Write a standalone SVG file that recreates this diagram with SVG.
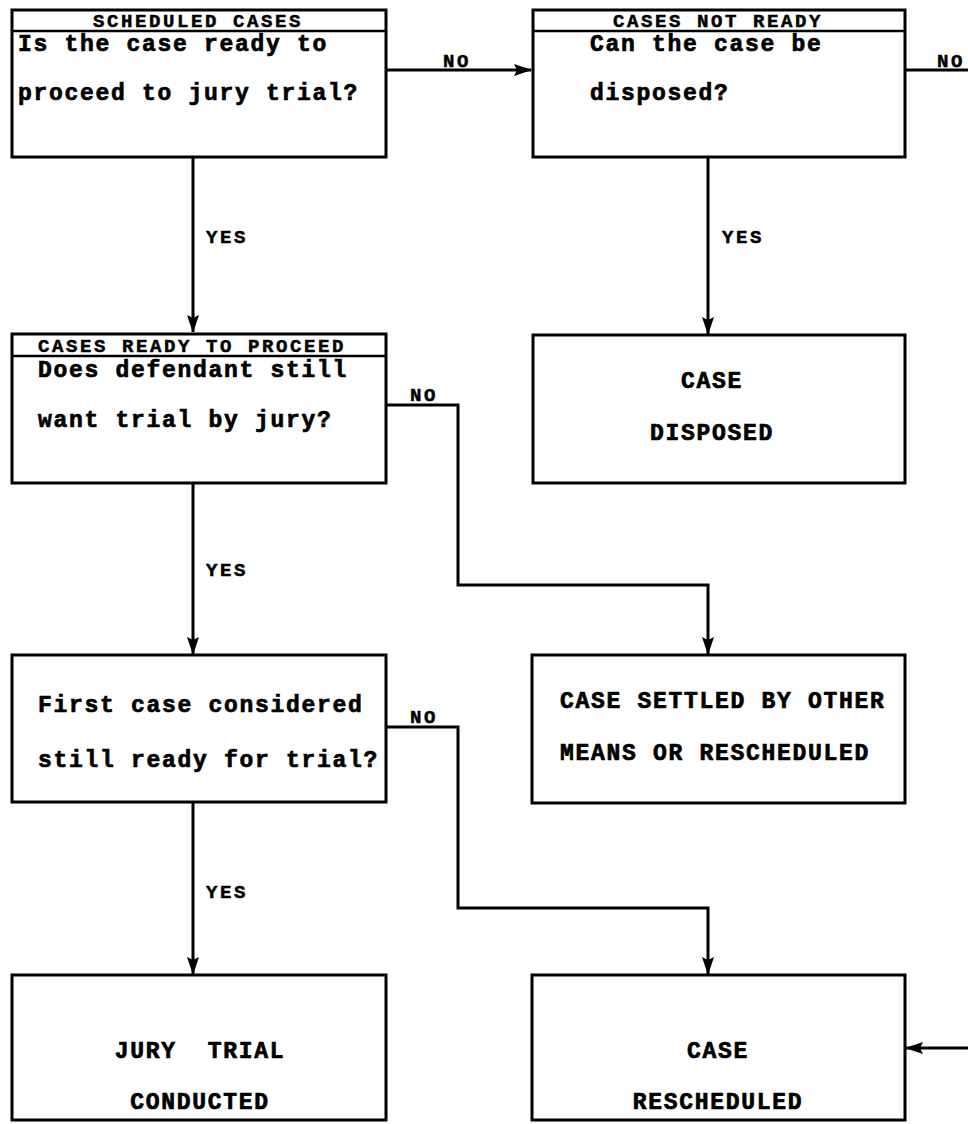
<svg xmlns="http://www.w3.org/2000/svg" width="968" height="1124" viewBox="0 0 968 1124">
<style>
.box{fill:#fff;stroke:#000;stroke-width:3}
.hl{stroke:#000;stroke-width:2.5}
.t{font-family:"Liberation Mono","DejaVu Sans Mono",monospace;font-weight:bold;font-size:23px;letter-spacing:1.7px;fill:#000;stroke:#000;stroke-width:0.7}
.h{font-family:"Liberation Mono","DejaVu Sans Mono",monospace;font-weight:bold;font-size:19px;letter-spacing:2.6px;fill:#000;stroke:#000;stroke-width:0.5}
.m{text-anchor:middle}
.c{fill:none;stroke:#000;stroke-width:3}
.a{marker-end:url(#ah)}
</style>
<defs>
<marker id="ah" viewBox="0 0 18 14" refX="17" refY="7" markerWidth="18" markerHeight="14" orient="auto" markerUnits="userSpaceOnUse">
<path d="M0,1 L18,7 L0,13 L3,7 Z" fill="#000"/>
</marker>
</defs>
<g id="connectors">
<path class="c a" d="M386,70 H531"/>
<path class="c" d="M905,70 H968"/>
<path class="c a" d="M193,157 V332"/>
<path class="c a" d="M708,157 V334"/>
<path class="c a" d="M386,405 H458 V585 H708 V654"/>
<path class="c a" d="M193,483 V654"/>
<path class="c a" d="M386,727 H458 V908 H708 V974"/>
<path class="c a" d="M193,802 V974"/>
<path class="c a" d="M968,1048 H906"/>
<text class="h m" x="457" y="67">NO</text>
<text class="h m" x="951" y="67">NO</text>
<text class="h" x="206" y="243">YES</text>
<text class="h" x="722" y="243">YES</text>
<text class="h" x="410" y="401">NO</text>
<text class="h" x="410" y="723">NO</text>
<text class="h" x="206" y="576">YES</text>
<text class="h" x="206" y="898">YES</text>
</g>
<g id="scheduled">
<rect class="box" x="12" y="10" width="374" height="147"/>
<line class="hl" x1="12" y1="31" x2="386" y2="31"/>
<text class="h m" x="198" y="27">SCHEDULED CASES</text>
<text class="t" x="18" y="51">Is the case ready to</text>
<text class="t" x="18" y="100">proceed to jury trial?</text>
</g>
<g id="not-ready">
<rect class="box" x="533" y="10" width="372" height="147"/>
<line class="hl" x1="533" y1="31" x2="905" y2="31"/>
<text class="h m" x="718" y="27">CASES NOT READY</text>
<text class="t" x="590" y="51">Can the case be</text>
<text class="t" x="590" y="100">disposed?</text>
</g>
<g id="ready">
<rect class="box" x="12" y="334" width="374" height="149"/>
<line class="hl" x1="12" y1="356" x2="386" y2="356"/>
<text class="h m" x="192" y="352">CASES READY TO PROCEED</text>
<text class="t" x="38" y="377">Does defendant still</text>
<text class="t" x="38" y="427">want trial by jury?</text>
</g>
<g id="disposed">
<rect class="box" x="533" y="335" width="372" height="148"/>
<text class="t m" x="712" y="388">CASE</text>
<text class="t m" x="712" y="440">DISPOSED</text>
</g>
<g id="first-case">
<rect class="box" x="12" y="655" width="374" height="147"/>
<text class="t" x="38" y="712">First case considered</text>
<text class="t" x="38" y="767">still ready for trial?</text>
</g>
<g id="settled">
<rect class="box" x="532" y="655" width="373" height="148"/>
<text class="t" x="560" y="708">CASE SETTLED BY OTHER</text>
<text class="t" x="560" y="760">MEANS OR RESCHEDULED</text>
</g>
<g id="jury-trial">
<rect class="box" x="12" y="975" width="374" height="145"/>
<text class="t m" x="200" y="1058" xml:space="preserve">JURY  TRIAL</text>
<text class="t m" x="200" y="1109">CONDUCTED</text>
</g>
<g id="rescheduled">
<rect class="box" x="532" y="975" width="373" height="145"/>
<text class="t m" x="718" y="1058">CASE</text>
<text class="t m" x="718" y="1109">RESCHEDULED</text>
</g>
</svg>
